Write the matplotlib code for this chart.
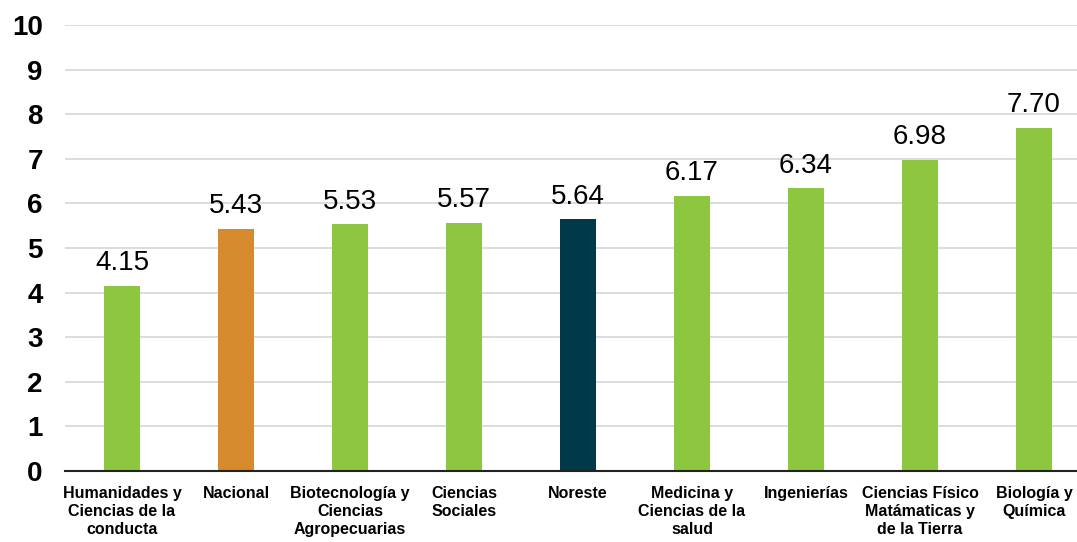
import matplotlib
matplotlib.use("Agg")
import matplotlib.pyplot as plt
from matplotlib import font_manager

categories = [
    "Humanidades y\nCiencias de la\nconducta",
    "Nacional",
    "Biotecnología y\nCiencias\nAgropecuarias",
    "Ciencias\nSociales",
    "Noreste",
    "Medicina y\nCiencias de la\nsalud",
    "Ingenierías",
    "Ciencias Físico\nMatámaticas y\nde la Tierra",
    "Biología y\nQuímica",
]
values = [4.15, 5.43, 5.53, 5.57, 5.64, 6.17, 6.34, 6.98, 7.70]
GREEN, ORANGE, TEAL = "#8DC63F", "#D68A2E", "#003A4A"
colors = [GREEN, ORANGE, GREEN, GREEN, TEAL, GREEN, GREEN, GREEN, GREEN]
yticks = list(range(0, 11))

names = {f.name for f in font_manager.fontManager.ttflist}
narrow = "Liberation Sans Narrow" if "Liberation Sans Narrow" in names else "Liberation Sans"

fig = plt.figure(figsize=(10.77, 5.42), dpi=100)
W, H = 1077, 542
ax = fig.add_axes([65 / W, 71 / H, 1026 / W, 446 / H])

x = range(len(values))
ax.bar(x, values, width=0.315, color=colors, zorder=3)
ax.set_xlim(-0.5, len(values) - 0.5)
ax.set_ylim(0, 10)
ax.set_yticks(yticks)
ax.set_yticklabels([str(t) for t in yticks], fontsize=20, fontweight="bold",
                   family="Liberation Sans")
ax.set_xticks(list(x))
ax.set_xticklabels(categories, fontsize=11.5, fontweight="bold", family=narrow,
                   linespacing=1.25, va="top")
ax.tick_params(axis="both", length=0)
ax.tick_params(axis="y", pad=16)
ax.tick_params(axis="x", pad=11)
ax.grid(axis="y", color="#D9D9D9", linewidth=1.3, zorder=0)
for side in ("top", "right", "left"):
    ax.spines[side].set_visible(False)
ax.spines["bottom"].set_color("#222222")
ax.spines["bottom"].set_linewidth(1.5)
ax.spines["bottom"].set_zorder(4)

for xi, v in zip(x, values):
    ax.annotate(f"{v:.2f}", (xi, v), xytext=(0, 7), textcoords="offset points",
                ha="center", va="bottom", fontsize=20, family="Liberation Sans",
                fontweight="medium")

fig.savefig("out.png", dpi=100)
